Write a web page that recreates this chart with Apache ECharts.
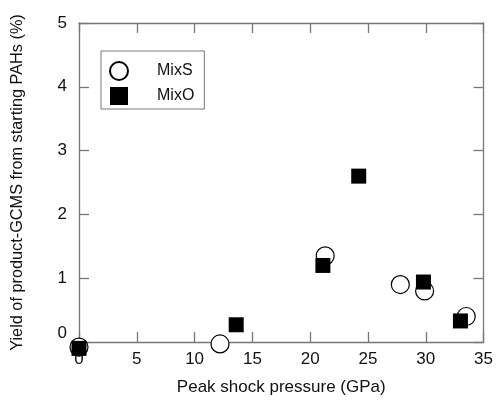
<!DOCTYPE html>
<html><head><meta charset="utf-8">
<script src="https://cdn.jsdelivr.net/npm/echarts@6/dist/echarts.min.js"></script>
<style>html,body{margin:0;padding:0;background:#fff}#c{width:496px;height:401px}</style>
</head><body><div id="c"></div>
<script>
const mixSPressure = [0, 12.2, 21.3, 27.8, 29.9, 33.5];
const mixSYield    = [-0.08, -0.03, 1.35, 0.9, 0.8, 0.4];
const mixOPressure = [0, 13.6, 21.1, 24.2, 29.8, 33.0];
const mixOYield    = [-0.1, 0.27, 1.2, 2.6, 0.94, 0.33];
const xTicks = [0, 5, 10, 15, 20, 25, 30, 35];
const yTicks = [0, 1, 2, 3, 4, 5];

const font = 'Liberation Sans, Arial, sans-serif';
const axisCol = '#777';
const chart = echarts.init(document.getElementById('c'));
const pairs = (xs, ys) => xs.map((x, i) => [x, ys[i]]);
const tickCommon = {show: true, inside: true, length: 10, lineStyle: {color: axisCol, width: 1.3}};
chart.setOption({
  animation: false,
  grid: {left: 79, right: 9, top: 23, bottom: 50},
  legend: {
    orient: 'vertical', left: 101, top: 51,
    borderColor: '#777', borderWidth: 1,
    padding: [10, 10, 4, 8], itemGap: 6, itemWidth: 18, itemHeight: 18,
    textStyle: {fontFamily: font, fontSize: 16, color: '#111', padding: [0, 0, 0, 24]},
    data: [{name: 'MixS', icon: 'circle'}, {name: 'MixO', icon: 'rect'}]
  },
  xAxis: [{
    type: 'value', min: xTicks[0], max: xTicks[xTicks.length - 1], interval: 5,
    name: 'Peak shock pressure (GPa)', nameLocation: 'middle', nameGap: 37,
    nameTextStyle: {fontFamily: font, fontSize: 17, color: '#111'},
    axisLine: {show: true, onZero: false, lineStyle: {color: axisCol, width: 1.3}},
    axisTick: tickCommon,
    axisLabel: {fontFamily: font, fontSize: 17, color: '#111', margin: 9},
    splitLine: {show: false}
  }, {
    type: 'value', position: 'top', min: 0, max: 35, interval: 5,
    axisLine: {show: true, onZero: false, lineStyle: {color: axisCol, width: 1.3}},
    axisTick: tickCommon, axisLabel: {show: false}, splitLine: {show: false}
  }],
  yAxis: [{
    type: 'value', min: yTicks[0], max: yTicks[yTicks.length - 1], interval: 1,
    name: 'Yield of product-GCMS from starting PAHs (%)', nameLocation: 'middle', nameGap: 53,
    nameTextStyle: {fontFamily: font, fontSize: 16.3, color: '#111'},
    axisLine: {show: true, onZero: false, lineStyle: {color: axisCol, width: 1.3}},
    axisTick: tickCommon,
    axisLabel: {
      fontFamily: font, fontSize: 17, color: '#111', margin: 12,
      formatter: v => v === 0 ? '{z|0}' : String(v),
      rich: {z: {fontFamily: font, fontSize: 17, color: '#111', padding: [0, 0, 18, 0]}}
    },
    splitLine: {show: false}
  }, {
    type: 'value', position: 'right', min: 0, max: 5, interval: 1,
    axisLine: {show: true, onZero: false, lineStyle: {color: axisCol, width: 1.3}},
    axisTick: tickCommon, axisLabel: {show: false}, splitLine: {show: false}
  }],
  series: [{
    name: 'MixS', type: 'scatter', clip: false, symbol: 'circle', symbolSize: 18,
    itemStyle: {color: '#fff', borderColor: '#000', borderWidth: 1.2, opacity: 1},
    data: pairs(mixSPressure, mixSYield), z: 2
  }, {
    name: 'MixO', type: 'scatter', clip: false, symbol: 'rect', symbolSize: 15,
    itemStyle: {color: '#000', opacity: 1},
    data: pairs(mixOPressure, mixOYield), z: 3
  }]
});
</script></body></html>
